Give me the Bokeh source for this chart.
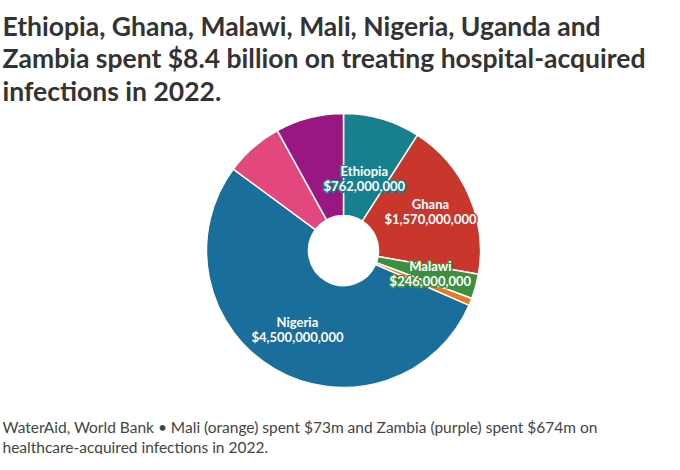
import math
from bokeh.plotting import figure
from bokeh.models import Range1d
from bokeh.core.properties import value
from bokeh.embed import file_html
from bokeh.resources import INLINE

countries = ["Ethiopia", "Ghana", "Malawi", "Mali", "Nigeria", "Uganda", "Zambia"]
spend = [762, 1570, 246, 73, 4500, 575, 674]  # $ millions
labels = ["$762,000,000", "$1,570,000,000", "$246,000,000", "", "$4,500,000,000", "", ""]
colors = ["#17808e", "#c9372c", "#3d8f40", "#e57a24", "#1a6e9c", "#e2477d", "#9a1680"]
label_r = [74, 95, 90, 0, 92, 0, 0]
title_lines = ["Ethiopia, Ghana, Malawi, Mali, Nigeria, Uganda and",
               "Zambia spent $8.4 billion on treating hospital-acquired",
               "infections in 2022."]

W, H = 664, 454
p = figure(width=W, height=H, output_backend="svg", toolbar_location=None,
           x_range=Range1d(0, W), y_range=Range1d(0, H), min_border=0)
p.axis.visible = False
p.grid.visible = False
p.outline_line_color = None

cx, cy = 343, H - 250
total = sum(spend)
cum = 0
starts, ends, lx, ly = [], [], [], []
for v, r in zip(spend, label_r):
    a0 = math.pi / 2 - cum / total * 2 * math.pi
    cum += v
    a1 = math.pi / 2 - cum / total * 2 * math.pi
    starts.append(a0); ends.append(a1)
    m = (a0 + a1) / 2
    lx.append(cx + r * math.cos(m)); ly.append(cy + r * math.sin(m))

p.annular_wedge(x=cx, y=cy, inner_radius=35, outer_radius=137,
                start_angle=starts, end_angle=ends, direction="clock",
                fill_color=colors, line_color="white", line_width=1.5)

offs = [(-1.5, 0), (1.5, 0), (0, 1.5), (0, -1.5), (-1, -1), (1, 1), (-1, 1), (1, -1)]
for i, c in enumerate(countries):
    if not labels[i]:
        continue
    for t, yy in ((c, ly[i] + 8), (labels[i], ly[i] - 7)):
        for dx, dy in offs:
            p.text(x=[lx[i] + dx], y=[yy + dy], text=[t], text_align="center", text_baseline="middle",
                   text_color=colors[i], text_font=value("Lato"), text_font_style="bold",
                   text_font_size="13px")
        p.text(x=[lx[i]], y=[yy], text=[t], text_align="center", text_baseline="middle",
               text_color="white", text_font=value("Lato"), text_font_style="bold", text_font_size="13px")

for k, t in enumerate(title_lines):
    p.text(x=[2], y=[H - 25 - 32.5 * k], text=[t], text_align="left", text_baseline="middle",
           text_color="#333333", text_font=value("Lato"), text_font_style="bold", text_font_size="26.5px")

p.text(x=[2], y=[H - 426], text=["WaterAid, World Bank • Mali (orange) spent $73m and Zambia (purple) spent $674m on"],
       text_align="left", text_baseline="middle", text_color="#444444",
       text_font=value("Lato"), text_font_size="15.5px")
p.text(x=[2], y=[H - 446], text=["healthcare-acquired infections in 2022."],
       text_align="left", text_baseline="middle", text_color="#444444",
       text_font=value("Lato"), text_font_size="15.5px")

open("out.html", "w").write(file_html(p, INLINE))
